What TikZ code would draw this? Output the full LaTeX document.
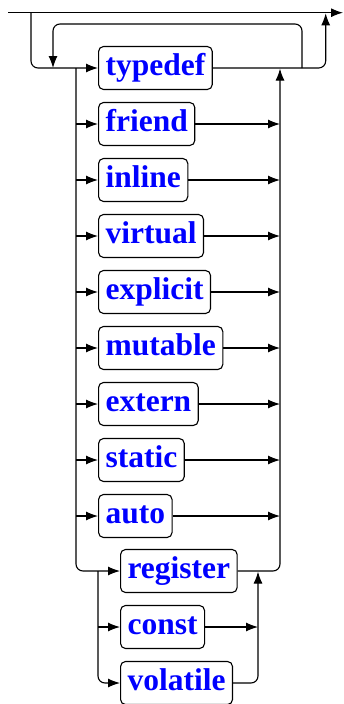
\documentclass[tikz,border=0pt]{standalone}
\usepackage{fontspec}
\setmainfont{Liberation Serif}
\newfontfamily\kwfont{Liberation Serif Bold}
\usetikzlibrary{arrows.meta}
\begin{document}
\begin{tikzpicture}[x=1pt,y=-1pt,
  line width=1.1pt,
  arr/.style={-{Latex[length=12pt,width=9pt]}},
  rc/.style={rounded corners=7pt},
  kw/.style={draw, rounded corners=5pt, anchor=west, text=blue,
    font=\kwfont\fontsize{31.5}{31.5}\selectfont,
    inner xsep=7pt, inner ysep=6pt, text height=23pt, text depth=8pt}]
\useasboundingbox (0,0) rectangle (344,704);
% keyword boxes
\node[kw] (n-typedef)  at (98,68)  {typedef};
\node[kw] (n-friend)   at (98,124) {friend};
\node[kw] (n-inline)   at (98,180) {inline};
\node[kw] (n-virtual)  at (98,236) {virtual};
\node[kw] (n-explicit) at (98,292) {explicit};
\node[kw] (n-mutable)  at (98,348) {mutable};
\node[kw] (n-extern)   at (98,404) {extern};
\node[kw] (n-static)   at (98,460) {static};
\node[kw] (n-auto)     at (98,516) {auto};
\node[kw] (n-register) at (120,571) {register};
\node[kw] (n-const)    at (120,627) {const};
\node[kw] (n-volatile) at (120,683) {volatile};
% junction coordinates
\coordinate (start) at (8,12.7);
\coordinate (end)   at (343,12.7);
\coordinate (drop)  at (31,12.7);
\coordinate (out)   at (325.7,13.3);
\coordinate (loopR) at (302,68);
\coordinate (loopL) at (53,68);
\coordinate (L)     at (76,68);
\coordinate (R)     at (280,68.6);
\coordinate (L2)    at (98,571);
\coordinate (R2)    at (258,571.6);
% top line
\draw[arr] (start) -- (end);
\draw[arr, rc] (drop) |- (n-typedef.west);
% repeat loop
\draw[arr, rc] (loopR) -- (302,24) -- (53,24) -- (loopL);
% exit
\draw[arr, rc] (n-typedef.east) -| (out);
% main left vertical
\draw[arr, rc] (L) |- (n-register.west);
\foreach \n in {friend,inline,virtual,explicit,mutable,extern,static,auto}{
  \draw[arr] (L |- n-\n.west) -- (n-\n.west);
  \draw[arr] (n-\n.east) -- (R |- n-\n.east);
}
% right collector
\draw[arr, rc] (n-register.east) -| (R);
% inner group
\draw[arr, rc] (L2) |- (n-volatile.west);
\draw[arr] (L2 |- n-const.west) -- (n-const.west);
\draw[arr, rc] (n-volatile.east) -| (R2);
\draw[arr] (n-const.east) -- (R2 |- n-const.east);
\end{tikzpicture}
\end{document}
